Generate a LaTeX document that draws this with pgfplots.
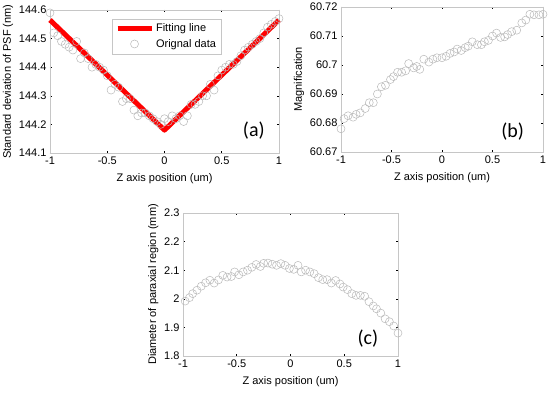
\documentclass[border=0pt]{standalone}
\usepackage{pgfplots}
\pgfplotsset{compat=1.18}
\usepackage{fontspec}
\setmainfont{Liberation Sans}
\newfontfamily\calib{Carlito}
\begin{document}
\begin{tikzpicture}
\useasboundingbox (0pt,0pt) rectangle (550pt,392pt);
\pgfplotsset{
  every axis/.append style={
    scale only axis,
    font=\fontsize{11}{12}\selectfont,
    /pgf/number format/assume math mode=true,
    axis line style={gray!45},
    tick style={black, line width=0.6pt},
    major tick length=2pt,
    tick align=inside,
    xtick pos=both, ytick pos=both,
    xmin=-1, xmax=1,
    xtick={-1,-0.5,0,0.5,1},
    xticklabels={-1,-0.5,0,0.5,1},
    xlabel={Z axis position (um)},
    xlabel style={yshift=-2pt},
    ylabel style={yshift=-1pt},
  },
  circ/.style={only marks, mark=o, mark size=4pt, mark options={gray!55, line width=0.5pt}},
}
% (a)
\begin{axis}[at={(50pt,239pt)}, anchor=south west, width=229pt, height=143pt,
  ymin=144.1, ymax=144.6,
  ytick={144.1,144.2,144.3,144.4,144.5,144.6},
  yticklabels={144.1,144.2,144.3,144.4,144.5,144.6},
  ylabel={Standard deviation of PSF (nm)},
  clip=false,
  legend style={at={(0.27,0.94)}, anchor=north west, draw=gray!45, font=\fontsize{11}{12}\selectfont, row sep=2pt, inner sep=3pt},
  legend cell align=left,
  legend image code/.code={\draw[#1] (0pt,0pt) -- (34pt,0pt);},
]
\addplot[red, line width=5pt, line join=round] coordinates {(-1,144.565) (0,144.18) (1,144.565)};
\addlegendentry{Fitting line}
\addplot[circ, legend image code/.code={\draw[gray!55,line width=0.5pt] (17pt,0pt) circle (4pt);}] coordinates {
(-1,144.59) (-0.967,144.52) (-0.933,144.51) (-0.9,144.49) (-0.867,144.48) (-0.833,144.47) (-0.8,144.46) (-0.767,144.49) (-0.733,144.43) (-0.7,144.45) (-0.667,144.43)
(-0.633,144.40) (-0.6,144.41) (-0.567,144.40) (-0.533,144.39) (-0.5,144.37) (-0.467,144.32) (-0.433,144.34) (-0.4,144.33) (-0.367,144.28) (-0.333,144.29)
(-0.3,144.29) (-0.267,144.25) (-0.233,144.23) (-0.2,144.24) (-0.167,144.24) (-0.133,144.23) (-0.1,144.22) (-0.067,144.21) (-0.033,144.20) (0,144.22)
(0.033,144.21) (0.067,144.23) (0.1,144.22) (0.133,144.23) (0.167,144.21) (0.2,144.23) (0.233,144.27) (0.267,144.27) (0.3,144.28) (0.333,144.30)
(0.367,144.30) (0.4,144.34) (0.433,144.32) (0.467,144.37) (0.5,144.39) (0.533,144.40) (0.567,144.41) (0.6,144.41) (0.633,144.42) (0.667,144.44)
(0.7,144.46) (0.733,144.47) (0.767,144.48) (0.8,144.49) (0.833,144.50) (0.867,144.52) (0.9,144.54) (0.933,144.55) (0.967,144.56) (1,144.57)};
\addlegendentry{Orignal data}
\node[font=\calib\fontsize{20}{22}\selectfont] at (axis cs:0.78,144.18) {(a)};
\end{axis}
% (b)
\begin{axis}[at={(341pt,240pt)}, anchor=south west, width=202pt, height=145pt,
  ymin=60.67, ymax=60.72,
  ytick={60.67,60.68,60.69,60.70,60.71,60.72},
  yticklabels={60.67,60.68,60.69,60.7,60.71,60.72},
  ylabel={Magnification},
  clip=false,
]
\addplot[circ] coordinates {
(-1,60.678) (-0.97,60.6815) (-0.93,60.6825) (-0.88,60.682) (-0.85,60.683) (-0.81,60.6835) (-0.76,60.685) (-0.72,60.687) (-0.68,60.687) (-0.64,60.690)
(-0.6,60.6925) (-0.56,60.693) (-0.51,60.695) (-0.48,60.696) (-0.44,60.6975) (-0.40,60.6975) (-0.36,60.698) (-0.33,60.7005) (-0.28,60.699) (-0.25,60.6995)
(-0.22,60.6985) (-0.18,60.702) (-0.13,60.701) (-0.09,60.702) (-0.05,60.7025) (0,60.7025) (0.04,60.703) (0.08,60.704) (0.12,60.7045) (0.15,60.7055)
(0.19,60.705) (0.23,60.706) (0.26,60.7065) (0.3,60.708) (0.35,60.707) (0.39,60.707) (0.42,60.708) (0.46,60.7085) (0.5,60.710) (0.54,60.711)
(0.58,60.7095) (0.62,60.7097) (0.65,60.7105) (0.69,60.7115) (0.74,60.712) (0.79,60.7145) (0.83,60.7155) (0.87,60.7175) (0.91,60.7173) (0.96,60.7173) (1,60.7175)};
\node[font=\calib\fontsize{20}{22}\selectfont] at (axis cs:0.70,60.6772) {(b)};
\end{axis}
% (c)
\begin{axis}[at={(183pt,36pt)}, anchor=south west, width=215pt, height=143pt,
  ymin=1.8, ymax=2.3,
  ytick={1.8,1.9,2,2.1,2.2,2.3},
  yticklabels={1.8,1.9,2,2.1,2.2,2.3},
  ylabel={Diameter of paraxial region (mm)},
  clip=false,
]
\addplot[circ] coordinates {
(-0.98,1.992) (-0.94,2.004) (-0.91,2.018) (-0.87,2.03) (-0.83,2.044) (-0.79,2.056) (-0.75,2.065) (-0.71,2.055) (-0.67,2.066) (-0.63,2.082)
(-0.59,2.076) (-0.55,2.078) (-0.52,2.094) (-0.48,2.084) (-0.44,2.094) (-0.40,2.1) (-0.36,2.11) (-0.32,2.12) (-0.28,2.113) (-0.25,2.124)
(-0.21,2.125) (-0.17,2.121) (-0.13,2.117) (-0.09,2.123) (-0.05,2.117) (-0.01,2.106) (0.03,2.103) (0.07,2.117) (0.10,2.094) (0.14,2.1)
(0.18,2.094) (0.22,2.088) (0.26,2.074) (0.30,2.067) (0.34,2.067) (0.38,2.055) (0.42,2.064) (0.46,2.052) (0.49,2.041) (0.53,2.032)
(0.57,2.018) (0.61,2.012) (0.65,2.012) (0.69,2.009) (0.73,1.99) (0.77,1.975) (0.80,1.965) (0.84,1.95) (0.88,1.93) (0.92,1.92) (0.96,1.905) (1,1.88)};
\node[font=\calib\fontsize{20}{22}\selectfont] at (axis cs:0.72,1.86) {(c)};
\end{axis}
\end{tikzpicture}
\end{document}
